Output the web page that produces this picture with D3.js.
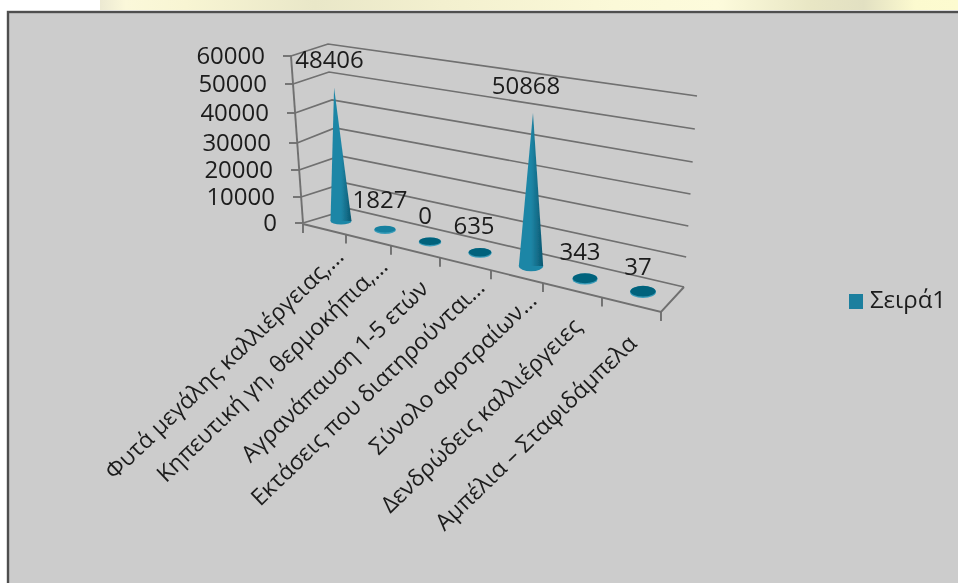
<!DOCTYPE html>
<html><head><meta charset="utf-8">
<script src="https://cdn.jsdelivr.net/npm/d3@7/dist/d3.min.js"></script>
<style>html,body{margin:0;padding:0;background:#fff}svg{display:block}text{font-family:"Open Sans","Noto Sans",sans-serif;fill:#1c1c1c}</style>
</head><body><svg id="c" width="958" height="583"></svg>
<script>
const categories=["Φυτά μεγάλης καλλιέργειας,…","Κηπευτική γη, θερμοκήπια,…","Αγρανάπαυση 1-5 ετών","Εκτάσεις που διατηρούνται…","Σύνολο αροτραίων…","Δενδρώδεις καλλιέργειες","Αμπέλια – Σταφιδάμπελα"];
const values=[48406,1827,0,635,50868,343,37];
const tickValues=[0,10000,20000,30000,40000,50000,60000];
const seriesName="Σειρά1";

const svg=d3.select("#c");
const defs=svg.append("defs");
defs.append("filter").attr("id","soft").attr("x","-5%").attr("y","-5%").attr("width","110%").attr("height","110%")
  .append("feGaussianBlur").attr("stdDeviation",0.5);
const grad=defs.append("linearGradient").attr("id","cone");
[[0,"#1f86a6"],[0.5,"#1f86a6"],[0.78,"#136c88"],[1,"#08566e"]].forEach(s=>grad.append("stop").attr("offset",s[0]).attr("stop-color",s[1]));
const band=defs.append("linearGradient").attr("id","band");
[[0,"#ece9d2"],[0.03,"#fbf8da"],[0.1,"#f8f5d3"],[0.25,"#e9e7c8"],[0.4,"#f3f0cf"],[0.6,"#fbf9d8"],[0.72,"#fdfbdc"],[0.83,"#e8e6c4"],[0.89,"#e2e0c2"],[0.95,"#fcfacf"],[1,"#fdfbd0"]].forEach(s=>band.append("stop").attr("offset",s[0]).attr("stop-color",s[1]));

// page backdrop and chart panel
svg.append("rect").attr("x",100).attr("width",858).attr("height",10).attr("fill","url(#band)");
const root=svg.append("g").attr("filter","url(#soft)");
root.append("rect").attr("x",8).attr("y",12).attr("width",960).attr("height",580).attr("fill","#cccccc").attr("stroke","#505050").attr("stroke-width",2.4);

// projection scales
const yLeft=d3.scaleLinear().domain(tickValues).range([223,197,170,143,113,84,56]);
const xLeft=d3.scaleLinear().domain([0,60000]).range([303,291]);
const yBack=d3.scaleLinear().domain(tickValues).range([209,183,156,128,100,72,44]);
const xBack=d3.scaleLinear().domain(tickValues).range([350,345,340,335,332,329,328]);
const yRight=d3.scaleLinear().domain(tickValues).range([287,257,226,194,162,129,96]);
const xRight=d3.scaleLinear().domain([0,60000]).range([684,697]);
const xFront=d3.scaleLinear().domain(d3.range(8)).range([303,346,391,440,491,543,602,661]);
const yFront=d3.scaleLinear().domain([303,661]).range([224,312]);
const cx=d3.scaleLinear().domain(d3.range(7)).range([341,385,430,480,531,585,643]);
const cy=d3.scaleLinear().domain(d3.range(7)).range([221,230,242,253,266,279,292]);
const rx=d3.scaleLinear().domain([0,6]).range([10.5,13]);
const ry=d3.scaleLinear().domain([0,6]).range([3.6,6]);
const heightGain=d3.scaleLinear().domain([0,4]).range([0.99,1.08]);
const lean=d3.scaleLinear().domain([0,4]).range([-0.052,0.013]);
const unit=d3.scaleLinear().domain([0,60000]).range([0,167]);

const line=d3.line().x(d=>d[0]).y(d=>d[1]);
const gridColor="#6f6f6f";

// gridlines across both walls
root.append("g").selectAll("path").data(tickValues).join("path")
  .attr("d",v=>line([[xLeft(v),yLeft(v)],[xBack(v),yBack(v)],[xRight(v),yRight(v)]]))
  .attr("fill","none").attr("stroke",gridColor).attr("stroke-width",1.7);

// floor front edge and right edge
root.append("path").attr("d",line([[xFront(0),yFront(xFront(0))],[xFront(7),yFront(xFront(7))],[xRight(0),yRight(0)]]))
  .attr("fill","none").attr("stroke",gridColor).attr("stroke-width",1.9);

// value axis
const yAxis=root.append("g").call(d3.axisLeft(yLeft).tickValues(tickValues).tickSize(8).tickPadding(18).tickFormat(d3.format("d")));
yAxis.select(".domain").remove();
yAxis.selectAll(".tick").attr("transform",v=>`translate(${xLeft(v)},${yLeft(v)})`);
yAxis.selectAll("line").attr("stroke",gridColor).attr("stroke-width",1.9);
yAxis.selectAll("text").attr("font-size",24).attr("dy","0.34em").style("font-family",'"Open Sans"');
root.append("path").attr("d",line([[xLeft(0),yLeft(0)],[xLeft(60000),yLeft(60000)]])).attr("stroke",gridColor).attr("stroke-width",1.9);

// category axis
const xAxis=root.append("g").call(d3.axisBottom(xFront).tickValues(d3.range(8)).tickSize(9).tickFormat(""));
xAxis.select(".domain").remove();
xAxis.selectAll(".tick").attr("transform",i=>`translate(${xFront(i)},${yFront(xFront(i))})`);
xAxis.selectAll("line").attr("stroke",gridColor).attr("stroke-width",1.9);

// category labels
const labelX=d3.scaleLinear().domain(d3.range(7)).range([345,389,430,486,538,583,638]);
const labelY=d3.scaleLinear().domain(d3.range(7)).range([258,268,290,289,302,328,345]);
root.append("g").selectAll("text").data(categories).join("text")
  .attr("text-anchor","end").attr("font-size",23)
  .attr("transform",(d,i)=>`translate(${labelX(i)},${labelY(i)}) rotate(-44)`)
  .text(d=>d);

// cones
const cones=root.append("g").selectAll("g").data(values).join("g");
cones.append("ellipse").attr("cx",(d,i)=>cx(i)).attr("cy",(d,i)=>cy(i))
  .attr("rx",(d,i)=>rx(i)).attr("ry",(d,i)=>ry(i)).attr("fill",d=>d>5000?"#1f86a6":"#3a9cb9");
cones.filter(d=>d<=5000).append("ellipse").attr("cx",d=>cx(values.indexOf(d))).attr("cy",d=>cy(values.indexOf(d))-0.8)
  .attr("rx",d=>rx(values.indexOf(d))-0.4).attr("ry",d=>ry(values.indexOf(d))-0.6).attr("fill",d=>d>1000?"#17809f":"#03627c");
cones.filter(d=>d>5000).append("path").attr("fill","url(#cone)")
  .attr("d",d=>{const i=values.indexOf(d),h=unit(d)*heightGain(i);
    return line([[cx(i)-rx(i),cy(i)],[cx(i)+h*lean(i),cy(i)-h],[cx(i)+rx(i),cy(i)]]);});

// data labels
const dlX=d3.scaleLinear().domain(d3.range(7)).range([329.5,380,425,474,526,580,638]);
const dlY=d3.scaleLinear().domain(d3.range(7)).range([68,208,224,234,94,260,275]);
root.append("g").selectAll("text").data(values).join("text")
  .attr("x",(d,i)=>dlX(i)).attr("y",(d,i)=>dlY(i)).attr("text-anchor","middle").attr("font-size",24).text(d=>d);

// legend
root.append("rect").attr("x",849).attr("y",294).attr("width",14).attr("height",15).attr("fill","#1f7f9e");
root.append("text").attr("x",870).attr("y",308).attr("font-size",24).text(seriesName);
</script></body></html>
